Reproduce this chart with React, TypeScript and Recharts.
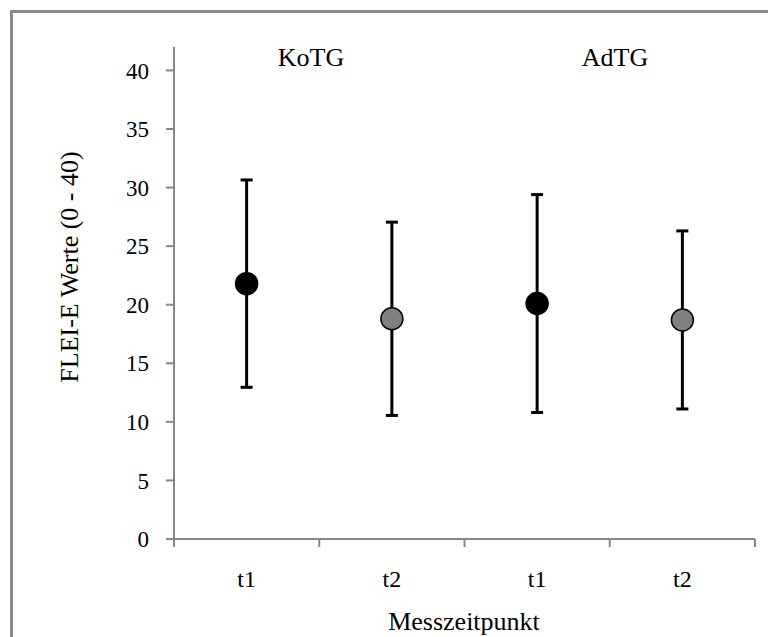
import React from 'react';
import { ComposedChart, Line, XAxis, YAxis, ErrorBar, Customized } from 'recharts';

const groups = ['KoTG', 'AdTG'];
const timepoints = ['t1', 't2', 't1', 't2'];
const means = [21.8, 18.8, 20.1, 18.7];
const sds = [8.85, 8.25, 9.3, 7.6];
const yTicks = [0, 5, 10, 15, 20, 25, 30, 35, 40];

const data = timepoints.map((t, i) => ({ key: i, label: t, mean: means[i], sd: sds[i] }));

const FONT = '"Liberation Serif", "Times New Roman", serif';
const AXIS_COLOR = '#868686';
const TICK_MARGIN = 32;
const TICK_LEN = 8;

const colorFor: Record<string, string> = { t1: '#000000', t2: '#808080' };

const XTick = (props: any) => {
  const { x, y, payload, width, visibleTicksCount, index } = props;
  const half = width / visibleTicksCount / 2;
  const axisY = y - TICK_MARGIN;
  return (
    <g>
      <line x1={x - half} x2={x - half} y1={axisY} y2={axisY + TICK_LEN} stroke={AXIS_COLOR} strokeWidth={2} />
      {index === visibleTicksCount - 1 && (
        <line x1={x + half} x2={x + half} y1={axisY} y2={axisY + TICK_LEN} stroke={AXIS_COLOR} strokeWidth={2} />
      )}
      <text x={x} y={y} dy="0.68em" textAnchor="middle" fontFamily={FONT} fontSize={24} fill="#000">
        {timepoints[payload.value]}
      </text>
    </g>
  );
};

const Point = (props: any) => {
  const { cx, cy, payload } = props;
  if (cx == null || cy == null) return <g />;
  const fill = colorFor[payload.label];
  return <circle cx={cx} cy={cy} r={11} fill={fill} stroke="#000" strokeWidth={1.5} />;
};

const Annotations = () => (
  <g fontFamily={FONT} fill="#000">
    <text x={311} y={66} textAnchor="middle" fontSize={26}>{groups[0]}</text>
    <text x={615} y={66} textAnchor="middle" fontSize={26}>{groups[1]}</text>
    <text x={78} y={267} textAnchor="middle" fontSize={26} transform="rotate(-90 78 267)">FLEI-E Werte (0 - 40)</text>
    <text x={464} y={630} textAnchor="middle" fontSize={26}>Messzeitpunkt</text>
  </g>
);

export default function App() {
  return (
    <div style={{ position: 'absolute', left: 0, top: 0, width: 768, height: 637, background: '#fff', overflow: 'hidden' }}>
      <div
        style={{
          position: 'absolute',
          left: 10,
          top: 10,
          width: 758,
          height: 627,
          boxSizing: 'border-box',
          borderLeft: '3px solid #8a8a8a',
          borderTop: '3px solid #8a8a8a',
        }}
      />
      <div style={{ position: 'absolute', left: 0, top: 0 }}>
        <ComposedChart width={768} height={637} data={data} margin={{ top: 47, right: 13, bottom: 38, left: 0 }}>
          <XAxis
            dataKey="key"
            type="category"
            scale="band"
            height={60}
            interval={0}
            tickLine={false}
            tickSize={0}
            tickMargin={TICK_MARGIN}
            axisLine={{ stroke: AXIS_COLOR, strokeWidth: 2 }}
            tick={<XTick />}
          />
          <YAxis
            type="number"
            domain={[0, 42]}
            ticks={yTicks}
            width={174}
            interval={0}
            tickSize={8}
            tickMargin={17}
            axisLine={{ stroke: AXIS_COLOR, strokeWidth: 2 }}
            tickLine={{ stroke: AXIS_COLOR, strokeWidth: 2 }}
            tick={{ fill: '#000', fontSize: 23, fontFamily: FONT }}
          />
          <Line dataKey="mean" stroke="none" dot={false} activeDot={false} isAnimationActive={false}>
            <ErrorBar dataKey="sd" direction="y" width={6} stroke="#000" strokeWidth={3} isAnimationActive={false} />
          </Line>
          <Line dataKey="mean" stroke="none" dot={<Point />} activeDot={false} isAnimationActive={false} />
          <Customized component={Annotations} />
        </ComposedChart>
      </div>
    </div>
  );
}
